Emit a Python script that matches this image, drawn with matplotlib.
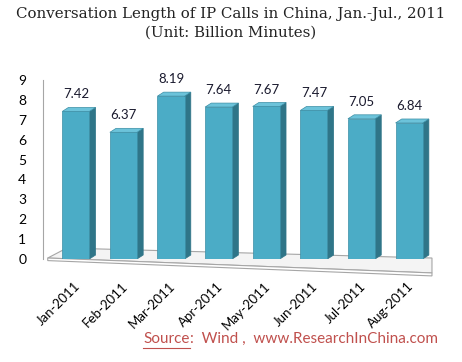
import matplotlib
matplotlib.use("Agg")
import matplotlib.pyplot as plt
from matplotlib.patches import Polygon
from matplotlib.lines import Line2D
import numpy as np

months = ["Jan-2011", "Feb-2011", "Mar-2011", "Apr-2011", "May-2011",
          "Jun-2011", "Jul-2011", "Aug-2011"]
values = [7.42, 6.37, 8.19, 7.64, 7.67, 7.47, 7.05, 6.84]
yticks = list(range(0, 10))

fig = plt.figure(figsize=(4.62, 3.62), dpi=100)
ax = fig.add_axes([0.093, 0.2845, 0.842, 0.4945])

front = "#4bacc6"
side = "#2f7588"
top = "#6cc3da"
w = 0.57
d = 0.13
dy = 0.2

x = np.arange(len(values))

# floor (decorative 3-D base)
ax.add_patch(Polygon([(-0.19, 0.55), (7.48, 0.05), (7.48, -0.7), (-0.59, 0.05)],
                     closed=True, facecolor="#f4f4f4", edgecolor="#a6a6a6",
                     linewidth=0.8, zorder=1, clip_on=False))
ax.add_patch(Polygon([(-0.59, 0.05), (7.48, -0.7), (7.48, -0.85), (-0.59, -0.08)],
                     closed=True, facecolor="#ffffff", edgecolor="#a6a6a6",
                     linewidth=0.8, zorder=1, clip_on=False))

bars = ax.bar(x, values, width=w, color=front, edgecolor="#3b8ea5",
              linewidth=0.5, zorder=3)
for b, v in zip(bars, values):
    x0 = b.get_x()
    x1 = x0 + b.get_width()
    ax.add_patch(Polygon([(x1, 0), (x1 + d, dy), (x1 + d, v + dy), (x1, v)],
                         closed=True, facecolor=side, edgecolor=side,
                         linewidth=0.5, zorder=2.9))
    ax.add_patch(Polygon([(x0, v), (x1, v), (x1 + d, v + dy), (x0 + d, v + dy)],
                         closed=True, facecolor=top, edgecolor="#3b8ea5",
                         linewidth=0.5, zorder=3.1))
    ax.text(x0 + w / 2, v + 0.55, f"{v:.2f}", ha="center", va="bottom",
            fontsize=9.5, family="Lato", color="#1a1a2e", zorder=4)

ax.set_xlim(-0.69, 7.48)
ax.set_ylim(0, 9)
ax.set_yticks(yticks)
ax.set_yticklabels([str(t) for t in yticks], family="Lato", fontsize=10)
ax.set_xticks(x - 0.05)
ax.set_xticklabels(months, rotation=45, ha="right", rotation_mode="anchor",
                   family="Lato", fontsize=9.5)
ax.tick_params(axis="both", length=0)
ax.tick_params(axis="y", pad=12)
ax.tick_params(axis="x", pad=15)
for s in ["top", "right", "bottom"]:
    ax.spines[s].set_visible(False)
ax.spines["left"].set_color("#a6a6a6")
ax.spines["left"].set_linewidth(0.8)
ax.patch.set_alpha(0)

fig.text(0.5, 0.962, "Conversation Length of IP Calls in China, Jan.-Jul., 2011",
         ha="center", va="center", family="DejaVu Serif", fontsize=10.8,
         color="#222222")
fig.text(0.5, 0.91, "(Unit: Billion Minutes)",
         ha="center", va="center", family="DejaVu Serif", fontsize=10.8,
         color="#222222")

red = "#c0504d"
t1 = fig.text(0.31, 0.052, "Source", ha="left", va="baseline",
              family="Lato", fontsize=11, color=red)
fig.canvas.draw()
r = fig.canvas.get_renderer()
bb = t1.get_window_extent(renderer=r).transformed(fig.transFigure.inverted())
fig.text(bb.x1, 0.052, ":  Wind ,  www.ResearchInChina.com", ha="left",
         va="baseline", family="Lato", fontsize=11, color=red)
fig.add_artist(Line2D([bb.x0, bb.x1], [0.052 - 0.012, 0.052 - 0.012],
                      transform=fig.transFigure, color=red, linewidth=0.8))

fig.savefig("out.png", dpi=100)
